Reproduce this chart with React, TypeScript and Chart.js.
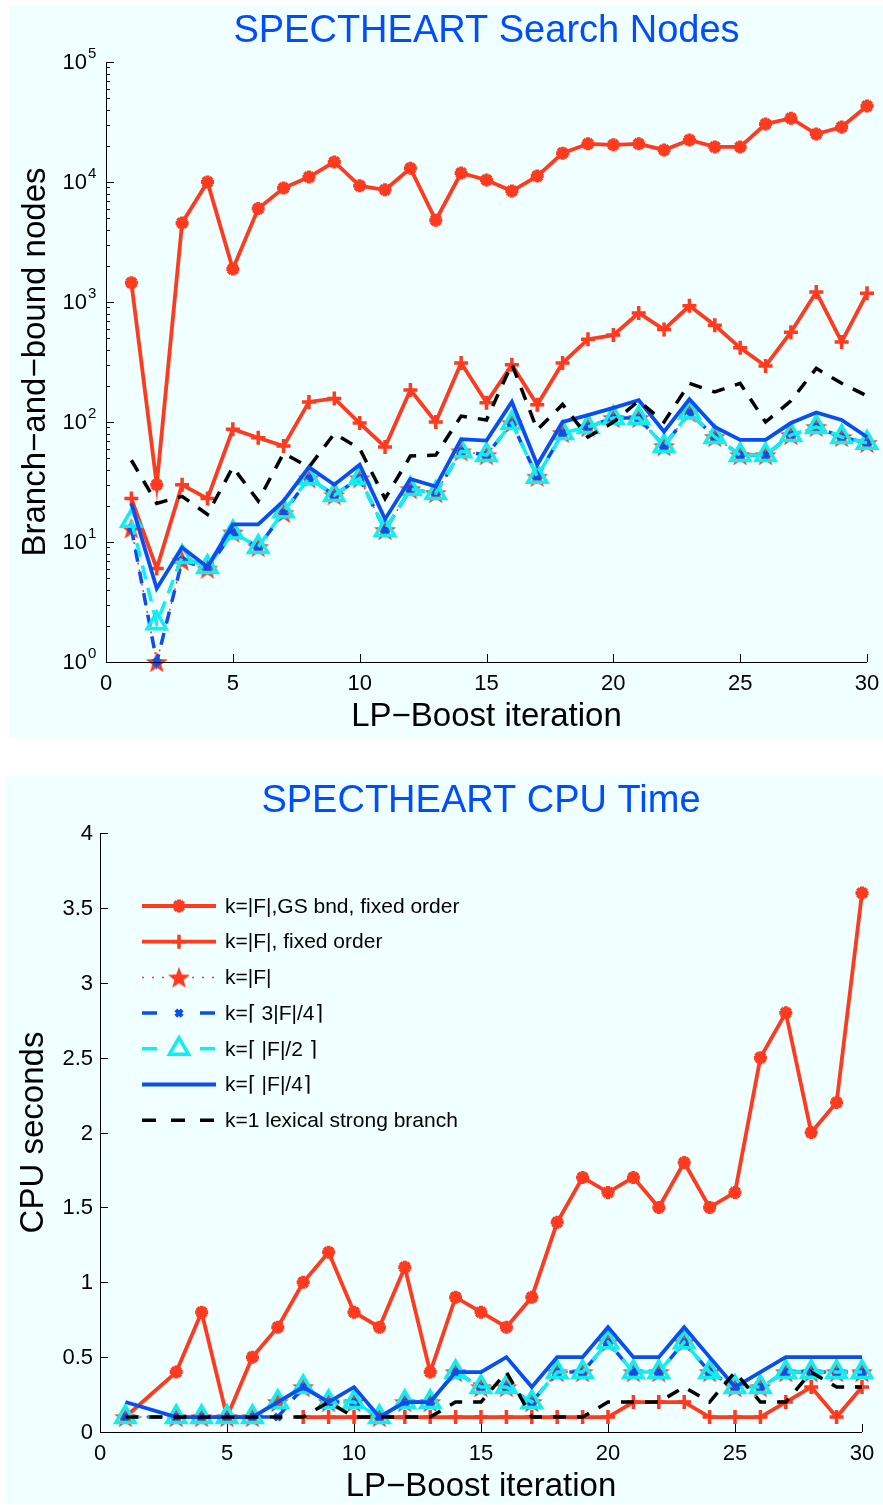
import React, { useEffect, useRef } from 'react';
import { Chart, registerables } from 'chart.js';
import { drawPoint } from 'chart.js/helpers';

Chart.register(...registerables);

// ---------------------------------------------------------------------------
// Data: LP-Boost iterations on SPECTHEART
// ---------------------------------------------------------------------------
const ITERATIONS = [1, 2, 3, 4, 5, 6, 7, 8, 9, 10, 11, 12, 13, 14, 15, 16, 17, 18, 19, 20, 21, 22, 23, 24, 25, 26, 27, 28, 29, 30];

// Branch-and-bound search nodes per iteration
const NODES_GS_FIXED = [1450, 30, 4560, 10000, 1880, 6000, 8900, 11000, 14700, 9300, 8600, 13000, 4800, 11900, 10400, 8400, 11200, 17400, 20800, 20400, 20800, 18500, 22400, 19600, 19600, 30400, 34000, 25100, 28700, 43000];
const NODES_FIXED = [23, 6, 30, 23, 87, 74, 63, 147, 157, 98, 62, 185, 100, 310, 145, 300, 139, 310, 490, 530, 810, 590, 930, 640, 415, 293, 560, 1210, 465, 1180];
const NODES_K_FULL = [13, 1, 7, 6, 12, 9.1, 17.5, 34, 24.6, 34, 12.6, 27.6, 25.6, 57, 53, 98, 35, 81, 91, 108, 108, 63, 120, 75, 53, 53, 78, 91, 75, 67];
const NODES_K_3Q = [13, 1, 7, 6, 12, 9.1, 17.5, 34, 24.6, 34, 12.6, 27.6, 25.6, 57, 53, 98, 35, 81, 91, 108, 108, 63, 120, 75, 53, 53, 78, 91, 75, 67];
const NODES_K_HALF = [15, 2.1, 7.5, 6.2, 12, 9.1, 18, 34, 24.6, 34, 12.6, 27.6, 25.6, 57, 53, 98, 35, 81, 91, 108, 108, 63, 120, 75, 53, 53, 78, 91, 75, 67];
const NODES_K_QUARTER = [21, 4.1, 9, 6.2, 14, 14, 22, 42, 30, 44, 15.5, 33.5, 29, 72, 70, 147, 44, 100, 114, 131, 152, 83, 155, 91, 71, 71, 98, 120, 104, 75];
const NODES_LEXICAL = [48, 21, 24, 17, 42, 22, 55, 42, 80, 60, 23, 52, 53, 112, 104, 305, 86, 140, 75, 100, 150, 100, 210, 178, 210, 100, 150, 280, 210, 165];

// CPU seconds per iteration (iteration 2 not recorded)
const CPU_GS_FIXED = [0.1, null, 0.4, 0.8, 0.1, 0.5, 0.7, 1.0, 1.2, 0.8, 0.7, 1.1, 0.4, 0.9, 0.8, 0.7, 0.9, 1.4, 1.7, 1.6, 1.7, 1.5, 1.8, 1.5, 1.6, 2.5, 2.8, 2.0, 2.2, 3.6];
const CPU_FIXED = [null, null, null, null, null, null, null, 0.1, 0.1, 0.1, 0.1, 0.1, 0.1, 0.1, 0.1, 0.1, 0.1, 0.1, 0.1, 0.1, 0.2, 0.2, 0.2, 0.1, 0.1, 0.1, 0.2, 0.3, 0.1, 0.3];
const CPU_K_FULL = [0.1, null, 0.1, 0.1, 0.1, 0.1, 0.2, 0.3, 0.2, 0.2, 0.1, 0.2, 0.2, 0.4, 0.3, 0.3, 0.2, 0.4, 0.4, 0.6, 0.4, 0.4, 0.6, 0.4, 0.3, 0.3, 0.4, 0.4, 0.4, 0.4];
const CPU_K_3Q = [0.1, null, 0.1, 0.1, 0.1, 0.1, 0.1, 0.3, 0.2, 0.2, 0.1, 0.2, 0.2, 0.4, 0.3, 0.3, 0.2, 0.4, 0.4, 0.6, 0.4, 0.4, 0.6, 0.4, 0.3, 0.3, 0.4, 0.4, 0.4, 0.4];
const CPU_K_HALF = [0.1, null, 0.1, 0.1, 0.1, 0.1, 0.2, 0.3, 0.2, 0.2, 0.1, 0.2, 0.2, 0.4, 0.3, 0.3, 0.2, 0.4, 0.4, 0.6, 0.4, 0.4, 0.6, 0.4, 0.3, 0.3, 0.4, 0.4, 0.4, 0.4];
const CPU_K_QUARTER = [0.2, null, 0.1, 0.1, 0.1, 0.1, 0.2, 0.3, 0.2, 0.3, 0.1, 0.2, 0.2, 0.4, 0.4, 0.5, 0.3, 0.5, 0.5, 0.7, 0.5, 0.5, 0.7, 0.5, 0.3, 0.4, 0.5, 0.5, 0.5, 0.5];
const CPU_LEXICAL = [0.1, null, 0.1, 0.1, 0.1, 0.1, 0.1, 0.1, 0.2, 0.1, 0.1, 0.1, 0.1, 0.2, 0.2, 0.4, 0.1, 0.1, 0.1, 0.2, 0.2, 0.2, 0.3, 0.2, 0.4, 0.2, 0.2, 0.4, 0.3, 0.3];

const SERIES_NAMES = [
  'k=|F|,GS bnd, fixed order',
  'k=|F|, fixed order',
  'k=|F|',
  'k=\u2308 3|F|/4\u2309',
  'k=\u2308 |F|/2 \u2309',
  'k=\u2308 |F|/4\u2309',
  'k=1 lexical strong branch',
];

// Axis ticks
const ITER_TICKS = [0, 5, 10, 15, 20, 25, 30];
const NODE_DECADES = [1, 10, 100, 1000, 10000, 100000];
const NODE_EXPONENTS = ['0', '1', '2', '3', '4', '5'];
const MINOR_MULTIPLES = [2, 3, 4, 5, 6, 7, 8, 9];
const CPU_TICKS = [0, 0.5, 1, 1.5, 2, 2.5, 3, 3.5, 4];
const CPU_TICK_LABELS = ['0', '0.5', '1', '1.5', '2', '2.5', '3', '3.5', '4'];

// ---------------------------------------------------------------------------
// Styling
// ---------------------------------------------------------------------------
const FONT = '"Liberation Sans", Arial, Helvetica, sans-serif';
const PANEL_BG = '#f0ffff';
const RED = '#ff3a1f';
const BLUE = '#0a4ef2';
const CYAN = '#10eef2';
const TITLE_BLUE = '#004cff';

function pentagram(size: number, color: string): HTMLCanvasElement {
  const c = document.createElement('canvas');
  c.width = size;
  c.height = size;
  const g = c.getContext('2d')!;
  const cx = size / 2;
  const cy = size / 2 + 1;
  const R = size / 2 - 0.5;
  const r = R * 0.42;
  g.beginPath();
  for (let i = 0; i < 10; i++) {
    const a = -Math.PI / 2 + (i * Math.PI) / 5;
    const rad = i % 2 === 0 ? R : r;
    g.lineTo(cx + rad * Math.cos(a), cy + rad * Math.sin(a));
  }
  g.closePath();
  g.fillStyle = color;
  g.fill();
  return c;
}

type Style = {
  borderColor: string;
  borderWidth: number;
  borderDash: number[];
  pointStyle: any;
  pointRadius: number;
  pointBorderWidth: number;
  pointBackgroundColor: string;
  legendDash: number[];
};

function makeStyles(): Style[] {
  const star = pentagram(24, RED);
  return [
    { borderColor: RED, borderWidth: 3.8, borderDash: [], pointStyle: 'star', pointRadius: 6.5, pointBorderWidth: 4, pointBackgroundColor: RED, legendDash: [] },
    { borderColor: RED, borderWidth: 3.8, borderDash: [], pointStyle: 'cross', pointRadius: 7, pointBorderWidth: 3.5, pointBackgroundColor: RED, legendDash: [] },
    { borderColor: RED, borderWidth: 1.5, borderDash: [2, 5], pointStyle: star, pointRadius: 11, pointBorderWidth: 0, pointBackgroundColor: RED, legendDash: [2, 8] },
    { borderColor: BLUE, borderWidth: 3.5, borderDash: [12, 10], pointStyle: 'crossRot', pointRadius: 4.5, pointBorderWidth: 4, pointBackgroundColor: BLUE, legendDash: [15, 43] },
    { borderColor: CYAN, borderWidth: 3.5, borderDash: [14, 9], pointStyle: 'triangle', pointRadius: 11, pointBorderWidth: 3.5, pointBackgroundColor: 'rgba(0,0,0,0)', legendDash: [15, 43] },
    { borderColor: BLUE, borderWidth: 3.8, borderDash: [], pointStyle: false, pointRadius: 0, pointBorderWidth: 0, pointBackgroundColor: BLUE, legendDash: [] },
    { borderColor: '#000000', borderWidth: 3.5, borderDash: [13, 11], pointStyle: false, pointRadius: 0, pointBorderWidth: 0, pointBackgroundColor: '#000', legendDash: [14, 15] },
  ];
}

function buildDatasets(seriesValues: (number | null)[][], styles: Style[]) {
  return seriesValues.map((values, i) => {
    const s = styles[i];
    return {
      label: SERIES_NAMES[i],
      data: ITERATIONS.map((x, j) => ({ x, y: values[j] })),
      borderColor: s.borderColor,
      borderWidth: s.borderWidth,
      borderDash: s.borderDash,
      pointStyle: s.pointStyle,
      pointRadius: s.pointRadius,
      pointBorderWidth: s.pointBorderWidth,
      pointBorderColor: s.borderColor,
      pointBackgroundColor: s.pointBackgroundColor,
      tension: 0,
      spanGaps: true,
      clip: false as const,
      order: seriesValues.length - i,
    };
  });
}

// ---------------------------------------------------------------------------
// Axes, labels, titles and legend drawn over the chart area
// ---------------------------------------------------------------------------
type FrameOpts = {
  title: string;
  titleRise: number;
  xTitle: string;
  yTitle: string;
  yTitleOffset: number;
  logY: boolean;
  styles: Style[];
  legend: boolean;
};

function framePlugin(o: FrameOpts) {
  return {
    id: 'frame',
    afterDatasetsDraw(chart: any) {
      const ctx: CanvasRenderingContext2D = chart.ctx;
      const { left, right, top, bottom } = chart.chartArea;
      const xs = chart.scales.x;
      const ys = chart.scales.y;
      ctx.save();
      ctx.setLineDash([]);
      ctx.strokeStyle = '#000';
      ctx.lineWidth = 1;
      ctx.beginPath();
      ctx.moveTo(left + 0.5, top);
      ctx.lineTo(left + 0.5, bottom + 0.5);
      ctx.lineTo(right, bottom + 0.5);
      // x ticks pointing inwards
      ITER_TICKS.forEach((t) => {
        const px = Math.round(xs.getPixelForValue(t)) + 0.5;
        ctx.moveTo(px, bottom);
        ctx.lineTo(px, bottom - 8);
      });
      if (o.logY) {
        NODE_DECADES.forEach((d) => {
          const py = Math.round(ys.getPixelForValue(d)) + 0.5;
          ctx.moveTo(left, py);
          ctx.lineTo(left + 8, py);
          if (d < NODE_DECADES[NODE_DECADES.length - 1]) {
            MINOR_MULTIPLES.forEach((m) => {
              const pm = Math.round(ys.getPixelForValue(d * m)) + 0.5;
              ctx.moveTo(left, pm);
              ctx.lineTo(left + 4, pm);
            });
          }
        });
      } else {
        CPU_TICKS.forEach((t) => {
          const py = Math.round(ys.getPixelForValue(t)) + 0.5;
          ctx.moveTo(left, py);
          ctx.lineTo(left + 8, py);
        });
      }
      ctx.stroke();
      ctx.restore();
    },
    afterDraw(chart: any) {
      const ctx: CanvasRenderingContext2D = chart.ctx;
      const { left, right, top, bottom } = chart.chartArea;
      const xs = chart.scales.x;
      const ys = chart.scales.y;
      const cx = (left + right) / 2;
      ctx.save();
      ctx.fillStyle = '#000';

      // tick labels
      ctx.font = `22px ${FONT}`;
      ctx.textAlign = 'center';
      ctx.textBaseline = 'alphabetic';
      ITER_TICKS.forEach((t) => ctx.fillText(String(t), xs.getPixelForValue(t), bottom + 28));

      if (o.logY) {
        NODE_DECADES.forEach((d, i) => {
          const py = ys.getPixelForValue(d);
          ctx.font = `22px ${FONT}`;
          ctx.textAlign = 'right';
          ctx.textBaseline = 'middle';
          ctx.fillText('10', left - 19, py + 1);
          ctx.font = `15px ${FONT}`;
          ctx.textAlign = 'left';
          ctx.textBaseline = 'alphabetic';
          ctx.fillText(NODE_EXPONENTS[i], left - 18, py - 4);
        });
      } else {
        ctx.font = `22px ${FONT}`;
        ctx.textAlign = 'right';
        ctx.textBaseline = 'middle';
        CPU_TICKS.forEach((t, i) => ctx.fillText(CPU_TICK_LABELS[i], left - 7, ys.getPixelForValue(t) + 1));
      }

      // axis titles
      ctx.font = `33px ${FONT}`;
      ctx.textAlign = 'center';
      ctx.textBaseline = 'alphabetic';
      ctx.fillText(o.xTitle, cx, bottom + 64);
      ctx.save();
      ctx.translate(left - o.yTitleOffset, (top + bottom) / 2);
      ctx.rotate(-Math.PI / 2);
      ctx.fillText(o.yTitle, 0, 0);
      ctx.restore();

      // chart title
      ctx.fillStyle = TITLE_BLUE;
      ctx.font = `38px ${FONT}`;
      ctx.fillText(o.title, cx, top - o.titleRise);

      // legend
      if (o.legend) {
        const x0 = left + 42;
        const x1 = left + 116;
        const xm = (x0 + x1) / 2;
        o.styles.forEach((s, i) => {
          const y = top + 73 + i * 35.7;
          ctx.save();
          ctx.strokeStyle = s.borderColor;
          ctx.lineWidth = s.borderWidth;
          ctx.setLineDash(s.legendDash);
          ctx.beginPath();
          ctx.moveTo(x0, y);
          ctx.lineTo(x1, y);
          ctx.stroke();
          ctx.setLineDash([]);
          if (s.pointStyle) {
            ctx.lineWidth = s.pointBorderWidth;
            ctx.strokeStyle = s.borderColor;
            ctx.fillStyle = s.pointBackgroundColor;
            drawPoint(ctx, { pointStyle: s.pointStyle, rotation: 0, radius: s.pointRadius, borderWidth: s.pointBorderWidth } as any, xm, y);
          }
          ctx.restore();
          ctx.fillStyle = '#000';
          ctx.font = `21px ${FONT}`;
          ctx.textAlign = 'left';
          ctx.textBaseline = 'middle';
          ctx.fillText(SERIES_NAMES[i], x1 + 9, y + 1);
        });
      }
      ctx.restore();
    },
  };
}

// ---------------------------------------------------------------------------
// Chart panels
// ---------------------------------------------------------------------------
type Box = { left: number; top: number; width: number; height: number };

function ChartPanel({ box, make }: { box: Box; make: () => any }) {
  const ref = useRef<HTMLCanvasElement>(null);
  useEffect(() => {
    const chart = new Chart(ref.current!, make());
    return () => chart.destroy();
  }, []);
  return (
    <div style={{ position: 'absolute', left: box.left, top: box.top, width: box.width, height: box.height, background: PANEL_BG }}>
      <canvas ref={ref} width={box.width} height={box.height} style={{ display: 'block', width: box.width, height: box.height }} />
    </div>
  );
}

const NODES_BOX: Box = { left: 9, top: 5, width: 874, height: 733 };
const CPU_BOX: Box = { left: 5, top: 776, width: 878, height: 727 };

function hiddenScales(yType: 'logarithmic' | 'linear', yMin: number, yMax: number) {
  return {
    x: { type: 'linear', display: false, min: 0, max: 30 },
    y: { type: yType, display: false, min: yMin, max: yMax },
  };
}

function nodesConfig() {
  const styles = makeStyles();
  return {
    type: 'line',
    data: {
      datasets: buildDatasets(
        [NODES_GS_FIXED, NODES_FIXED, NODES_K_FULL, NODES_K_3Q, NODES_K_HALF, NODES_K_QUARTER, NODES_LEXICAL],
        styles,
      ),
    },
    options: {
      responsive: false,
      animation: false,
      devicePixelRatio: 1,
      events: [],
      layout: { padding: { left: 97, right: 16, top: 57, bottom: 76 } },
      scales: hiddenScales('logarithmic', 1, 100000),
      plugins: { legend: { display: false }, tooltip: { enabled: false } },
    },
    plugins: [
      framePlugin({
        title: 'SPECTHEART Search Nodes',
        titleRise: 20,
        xTitle: 'LP\u2212Boost iteration',
        yTitle: 'Branch\u2212and\u2212bound nodes',
        yTitleOffset: 61,
        logY: true,
        styles,
        legend: false,
      }),
    ],
  };
}

function cpuConfig() {
  const styles = makeStyles();
  return {
    type: 'line',
    data: {
      datasets: buildDatasets(
        [CPU_GS_FIXED, CPU_FIXED, CPU_K_FULL, CPU_K_3Q, CPU_K_HALF, CPU_K_QUARTER, CPU_LEXICAL],
        styles,
      ),
    },
    options: {
      responsive: false,
      animation: false,
      devicePixelRatio: 1,
      events: [],
      layout: { padding: { left: 95, right: 21, top: 57, bottom: 71 } },
      scales: hiddenScales('linear', 0, 4),
      plugins: { legend: { display: false }, tooltip: { enabled: false } },
    },
    plugins: [
      framePlugin({
        title: 'SPECTHEART CPU Time',
        titleRise: 21,
        xTitle: 'LP\u2212Boost iteration',
        yTitle: 'CPU seconds',
        yTitleOffset: 57,
        logY: false,
        styles,
        legend: true,
      }),
    ],
  };
}

export default function App() {
  return (
    <div style={{ position: 'absolute', left: 0, top: 0, width: 883, height: 1505, background: '#ffffff', overflow: 'hidden' }}>
      <ChartPanel box={NODES_BOX} make={nodesConfig} />
      <ChartPanel box={CPU_BOX} make={cpuConfig} />
    </div>
  );
}
